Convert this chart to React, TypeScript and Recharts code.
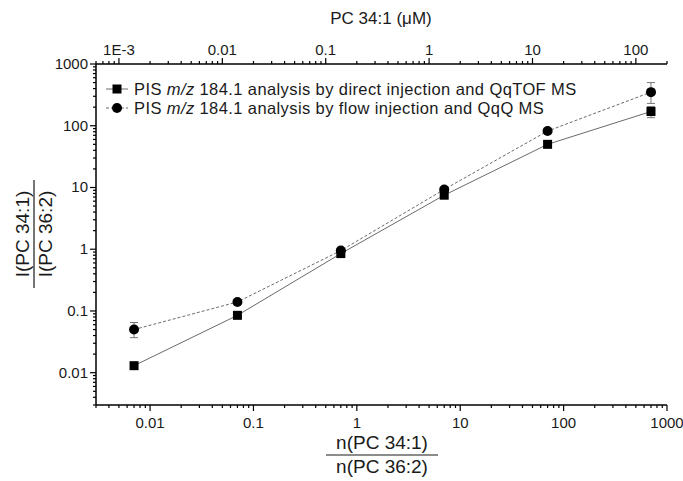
import React from 'react'
import { LineChart, Line, XAxis, YAxis, ErrorBar } from 'recharts'

// molar ratio n(PC 34:1)/n(PC 36:2)
const ratio = [0.007, 0.07, 0.7, 7, 70, 700]
// PC 34:1 concentration (µM) of the same samples, top axis
const conc = [0.0014, 0.014, 0.14, 1.4, 14, 140]
// QqTOF, direct injection (squares)
const qtof = [0.013, 0.085, 0.85, 7.5, 50, 170]
const qtofLow = [0.012, 0.08, 0.8, 7.0, 45, 135]
const qtofHigh = [0.014, 0.09, 0.9, 8.0, 56, 205]
// QqQ, flow injection (circles)
const qqq = [0.05, 0.14, 0.95, 9.3, 82, 350]
const qqqLow = [0.037, 0.13, 0.9, 8.8, 76, 230]
const qqqHigh = [0.065, 0.15, 1.0, 9.8, 88, 500]

const topMajor = [0.001, 0.01, 0.1, 1, 10, 100]
const topLabels = ['1E-3', '0.01', '0.1', '1', '10', '100']

const xDomain: [number, number] = [0.003, 1000]
const yDomain: [number, number] = [0.003, 1000]
const topDomain: [number, number] = [0.0006, 200]

const rows = ratio.map((r, i) => ({
  ratio: r,
  conc: conc[i],
  qtof: qtof[i],
  qtofErr: [qtof[i] - qtofLow[i], qtofHigh[i] - qtof[i]],
  qqq: qqq[i],
  qqqErr: [qqq[i] - qqqLow[i], qqqHigh[i] - qqq[i]],
}))

// major + minor (2..9) log ticks inside a domain
function logTicks([lo, hi]: [number, number]) {
  const out: number[] = []
  for (let e = -4; e <= 3; e++) {
    for (let m = 1; m <= 9; m++) {
      const v = parseFloat((m * Math.pow(10, e)).toPrecision(6))
      if (v >= lo * 0.9999 && v <= hi * 1.0001) out.push(v)
    }
  }
  return out
}

const isMajor = (v: number) => Math.abs(Math.log10(v) - Math.round(Math.log10(v))) < 1e-6

const FONT = 'Liberation Sans, Arial, sans-serif'
const TXT = '#1a1a1a'
const FS = 15

function BottomTick(props: any) {
  const { x, y, payload } = props
  const major = isMajor(payload.value)
  return (
    <g>
      <line x1={x} x2={x} y1={y} y2={y + (major ? 6 : 3)} stroke="#000" strokeWidth={1.2} />
      {major && (
        <text x={x} y={y + 23} textAnchor="middle" fontSize={FS} fontFamily={FONT} fill={TXT}>
          {String(payload.value)}
        </text>
      )}
    </g>
  )
}

function TopTick(props: any) {
  const { x, y, payload } = props
  const major = isMajor(payload.value)
  const idx = topMajor.findIndex((t) => Math.abs(t - payload.value) < payload.value * 1e-6)
  return (
    <g>
      <line x1={x} x2={x} y1={y} y2={y - (major ? 6 : 3)} stroke="#000" strokeWidth={1.2} />
      {major && idx >= 0 && (
        <text x={x} y={y - 9} textAnchor="middle" fontSize={FS} fontFamily={FONT} fill={TXT}>
          {topLabels[idx]}
        </text>
      )}
    </g>
  )
}

function LeftTick(props: any) {
  const { x, y, payload } = props
  const major = isMajor(payload.value)
  return (
    <g>
      <line x1={x - (major ? 6 : 3)} x2={x} y1={y} y2={y} stroke="#000" strokeWidth={1.2} />
      {major && (
        <text x={x - 8} y={y + 5} textAnchor="end" fontSize={FS} fontFamily={FONT} fill={TXT}>
          {String(payload.value)}
        </text>
      )}
    </g>
  )
}

const SquareDot = (props: any) => {
  const { cx, cy } = props
  if (cx == null || cy == null) return null
  return <rect x={cx - 4.5} y={cy - 4.5} width={9} height={9} fill="#000" />
}

const CircleDot = (props: any) => {
  const { cx, cy } = props
  if (cx == null || cy == null) return null
  return <circle cx={cx} cy={cy} r={5} fill="#000" />
}

export default function App() {
  const W = 683
  const H = 481
  return (
    <div style={{ position: 'absolute', left: 0, top: 0, width: W, height: H, background: '#fff' }}>
      <LineChart
        width={W}
        height={H}
        data={rows}
        margin={{ top: 34, right: 16, bottom: 46, left: 56 }}
      >
        <XAxis
          xAxisId="bottom"
          dataKey="ratio"
          type="number"
          scale="log"
          domain={xDomain}
          allowDataOverflow
          ticks={logTicks(xDomain)}
          interval={0}
          tickSize={0}
          tickMargin={0}
          tick={<BottomTick />}
          height={30}
          axisLine={{ stroke: '#000', strokeWidth: 1.5 }}
        />
        <XAxis
          xAxisId="top"
          dataKey="conc"
          orientation="top"
          type="number"
          scale="log"
          domain={topDomain}
          allowDataOverflow
          ticks={logTicks(topDomain)}
          interval={0}
          tickSize={0}
          tickMargin={0}
          tick={<TopTick />}
          height={30}
          axisLine={{ stroke: '#000', strokeWidth: 1.5 }}
        />
        <YAxis
          type="number"
          scale="log"
          domain={yDomain}
          allowDataOverflow
          ticks={logTicks(yDomain)}
          interval={0}
          tickSize={0}
          tickMargin={0}
          tick={<LeftTick />}
          width={40}
          axisLine={{ stroke: '#000', strokeWidth: 1.5 }}
        />
        {/* invisible series so the concentration axis has data */}
        <Line
          xAxisId="top"
          dataKey="qtof"
          stroke="none"
          dot={false}
          activeDot={false}
          legendType="none"
          isAnimationActive={false}
        />
        <Line
          xAxisId="bottom"
          dataKey="qtof"
          stroke="#6b6b6b"
          strokeWidth={1}
          dot={<SquareDot />}
          isAnimationActive={false}
        >
          <ErrorBar dataKey="qtofErr" direction="y" width={4} stroke="#777" strokeWidth={1} />
        </Line>
        <Line
          xAxisId="bottom"
          dataKey="qqq"
          stroke="#6b6b6b"
          strokeWidth={1}
          strokeDasharray="3 2"
          dot={<CircleDot />}
          isAnimationActive={false}
        >
          <ErrorBar dataKey="qqqErr" direction="y" width={4} stroke="#777" strokeWidth={1} />
        </Line>
      </LineChart>

      <svg
        width={W}
        height={H}
        style={{ position: 'absolute', left: 0, top: 0, pointerEvents: 'none' }}
        fontFamily={FONT}
        fill={TXT}
      >
        {/* top axis title */}
        <text x={381} y={24} textAnchor="middle" fontSize={17}>PC 34:1 (μM)</text>

        {/* legend */}
        <line x1={106} x2={128} y1={89} y2={89} stroke="#6b6b6b" strokeWidth={1} />
        <rect x={112.5} y={84.5} width={9} height={9} fill="#000" />
        <text x={134} y={95} fontSize={16.5} letterSpacing={0.4}>
          PIS <tspan fontStyle="italic">m/z</tspan> 184.1 analysis by direct injection and QqTOF MS
        </text>
        <line x1={106} x2={128} y1={108} y2={108} stroke="#6b6b6b" strokeWidth={1} strokeDasharray="3 2" />
        <circle cx={117} cy={108} r={5} fill="#000" />
        <text x={134} y={114} fontSize={16.5} letterSpacing={0.4}>
          PIS <tspan fontStyle="italic">m/z</tspan> 184.1 analysis by flow injection and QqQ MS
        </text>

        {/* bottom axis title as fraction */}
        <text x={382} y={449} textAnchor="middle" fontSize={19}>n(PC 34:1)</text>
        <line x1={326} x2={438} y1={455} y2={455} stroke={TXT} strokeWidth={1.2} />
        <text x={382} y={473} textAnchor="middle" fontSize={19}>n(PC 36:2)</text>

        {/* left axis title as fraction */}
        <g transform="translate(0,234) rotate(-90)">
          <text x={0} y={29} textAnchor="middle" fontSize={19}>I(PC 34:1)</text>
          <line x1={-54} x2={54} y1={34} y2={34} stroke={TXT} strokeWidth={1.2} />
          <text x={0} y={52} textAnchor="middle" fontSize={19}>I(PC 36:2)</text>
        </g>
      </svg>
    </div>
  )
}
